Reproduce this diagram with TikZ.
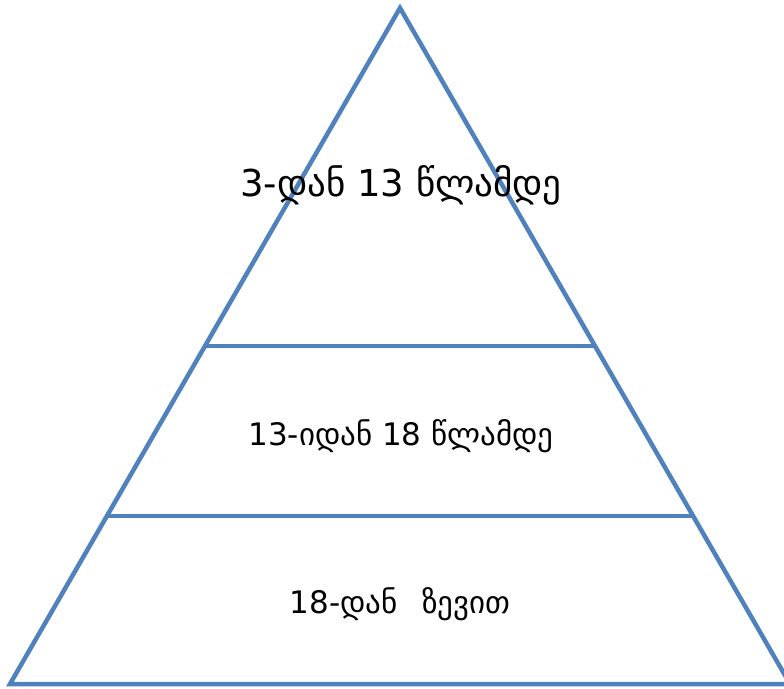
\documentclass[tikz,border=0pt]{standalone}
\usepackage{fontspec}
\setmainfont{DejaVu Sans}
\definecolor{pyrblue}{HTML}{4F81BD}
\tikzset{
  edge/.style={draw=pyrblue, line width=4.5pt},
  lbl/.style={inner sep=0pt, text=black, anchor=center}
}
\begin{document}
\begin{tikzpicture}[x=1pt,y=1pt]
\useasboundingbox (0,0) rectangle (784,688);
\coordinate (A) at (400,680);
\coordinate (BL) at (10,4);
\coordinate (BR) at (790,4);
\coordinate (L1) at (205,342);
\coordinate (R1) at (595,342);
\coordinate (L2) at (107,172);
\coordinate (R2) at (693,172);
\draw[edge] (A) -- (BL) -- (BR) -- cycle;
\draw[edge] (L1) -- (R1);
\draw[edge] (L2) -- (R2);
\node[lbl, font=\fontsize{37}{42}\selectfont] (t1) at (401,503) {3-დან 13 წლამდე};
\node[lbl, font=\fontsize{31}{36}\selectfont] (t2) at (401,252) {13-იდან 18 წლამდე};
\node[lbl, font=\fontsize{31}{36}\selectfont] (t3) at (400,84) {18-დან\hspace{0.8em}ზევით};
\end{tikzpicture}
\end{document}
